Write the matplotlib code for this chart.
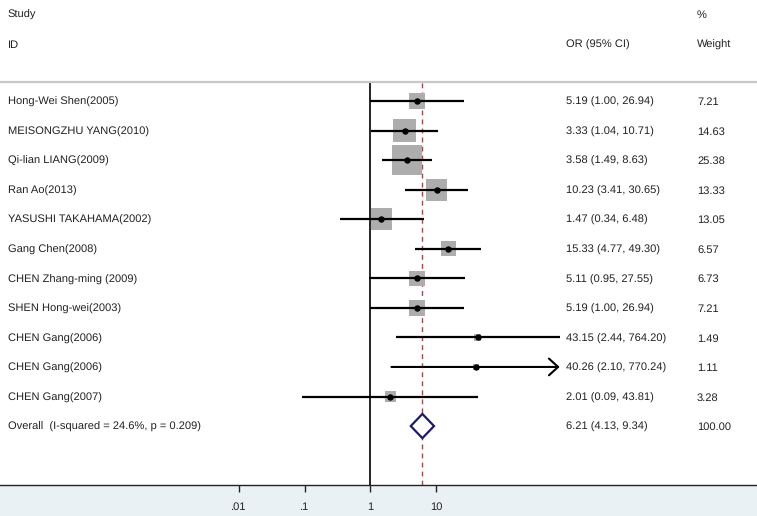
import numpy as np
import matplotlib
matplotlib.use("Agg")
import matplotlib.pyplot as plt
from matplotlib.patches import Polygon, Rectangle
from matplotlib.transforms import blended_transform_factory, ScaledTranslation

plt.rcParams['font.family'] = ['Liberation Sans', 'DejaVu Sans']
plt.rcParams['text.hinting'] = 'no_hinting'

studies = ["Hong-Wei Shen(2005)", "MEISONGZHU YANG(2010)", "Qi-lian LIANG(2009)",
           "Ran Ao(2013)", "YASUSHI TAKAHAMA(2002)", "Gang Chen(2008)",
           "CHEN Zhang-ming (2009)", "SHEN Hong-wei(2003)", "CHEN Gang(2006)",
           "CHEN Gang(2006)", "CHEN Gang(2007)"]
odds = [5.19, 3.33, 3.58, 10.23, 1.47, 15.33, 5.11, 5.19, 43.15, 40.26, 2.01]
lower = [1.00, 1.04, 1.49, 3.41, 0.34, 4.77, 0.95, 1.00, 2.44, 2.10, 0.09]
upper = [26.94, 10.71, 8.63, 30.65, 6.48, 49.30, 27.55, 26.94, 764.20, 770.24, 43.81]
weights = [7.21, 14.63, 25.38, 13.33, 13.05, 6.57, 6.73, 7.21, 1.49, 1.11, 3.28]

overall_label = "Overall  (I-squared = 24.6%, p = 0.209)"
overall_or, overall_lo, overall_hi, overall_w = 6.21, 4.13, 9.34, 100.00

tick_values = [0.01, 0.1, 1, 10]
tick_labels = [".01", ".1", "1", "10"]
x_display_max = 765.0

W, H = 757, 516
fig = plt.figure(figsize=(W / 100, H / 100), dpi=100)
ax_bottom_px, ax_top_px = 485, 82
ax = fig.add_axes([0, (H - ax_bottom_px) / H, 1, (ax_bottom_px - ax_top_px) / H])
fig.patches.append(Rectangle((0, 0), 1, (H - ax_bottom_px) / H, transform=fig.transFigure,
                             facecolor='#EAF1F5', edgecolor='none', zorder=-10))

ax.set_xscale('log')
px_one, px_decade = 370.3, 65.67
ax.set_xlim(10 ** (-px_one / px_decade), 10 ** ((W - px_one) / px_decade))
n = len(studies)
row_top_px, row_step_px = 101, 29.55
ax.set_ylim((ax_bottom_px - row_top_px) / row_step_px, (ax_top_px - row_top_px) / row_step_px)

rows = np.arange(n)
txtc = '#222222'
fs = 8
shift = ScaledTranslation(0, -0.36 * fs / 72, fig.dpi_scale_trans)

# null line and overall line
ax.axvline(1, color='black', lw=1.2, zorder=1)
ax.axvline(overall_or, color='#9E4A55', lw=1.0, ls=(0, (3.5, 3)), zorder=1)

# boxes
ax.scatter(odds, rows, s=np.array(weights) * 18.4, marker='s', color='#ADADAD',
           edgecolors='none', zorder=2)
# CI lines
for y, lo, hi in zip(rows, lower, upper):
    if hi > x_display_max:
        ax.annotate('', xy=(x_display_max, y), xytext=(lo, y),
                    arrowprops=dict(arrowstyle='->,head_length=0.55,head_width=0.5',
                                    lw=1.5, color='black', mutation_scale=12,
                                    shrinkA=0, shrinkB=0), zorder=3)
    else:
        ax.plot([lo, hi], [y, y], color='black', lw=1.6, solid_capstyle='butt', zorder=3)
ax.plot(odds, rows, 'o', color='black', ms=3.6, zorder=4)

# diamond
yo = n
hh = 0.41
ax.add_patch(Polygon([(overall_lo, yo), (overall_or, yo - hh), (overall_hi, yo),
                      (overall_or, yo + hh)], closed=True, facecolor='white',
                     edgecolor='#1B1B6B', lw=1.6, zorder=4))

# text columns
tr = blended_transform_factory(fig.transFigure, ax.transData) + shift
x_lab, x_ci, x_w = 8 / W, 566 / W, 697 / W

def rowtext(x, y, s):
    ax.text(x, y, s, transform=tr, va='baseline', ha='left', fontsize=fs, color=txtc)

for y, s, o, lo, hi, w in zip(rows, studies, odds, lower, upper, weights):
    rowtext(x_lab, y, s)
    rowtext(x_ci, y, f"{o:.2f} ({lo:.2f}, {hi:.2f})")
    rowtext(x_w, y, f"{w:.2f}")
rowtext(x_lab, yo, overall_label)
rowtext(x_ci, yo, f"{overall_or:.2f} ({overall_lo:.2f}, {overall_hi:.2f})")
rowtext(x_w, yo, f"{overall_w:.2f}")

# headers
ftr = fig.transFigure + shift
def hdr(xpx, ypx, s):
    fig.text(xpx / W, 1 - ypx / H, s, va='baseline', ha='left', fontsize=fs,
             color=txtc, transform=ftr)
hdr(8, 14, "Study")
hdr(8, 44, "ID")
hdr(566, 44, "OR (95% CI)")
hdr(697, 14, "%")
hdr(697, 44, "Weight")

# axes styling
for side in ('left', 'right'):
    ax.spines[side].set_visible(False)
ax.spines['top'].set_color('#C8C8C8')
ax.spines['top'].set_linewidth(1.6)
ax.spines['bottom'].set_color('#222222')
ax.spines['bottom'].set_linewidth(1.0)
ax.set_yticks([])
ax.set_xticks(tick_values)
ax.set_xticklabels(tick_labels)
ax.xaxis.set_minor_locator(matplotlib.ticker.NullLocator())
ax.tick_params(axis='x', direction='out', length=5, width=1, color='#222222',
               labelsize=fs, labelcolor=txtc, pad=7)

fig.savefig("out.png", dpi=100)
